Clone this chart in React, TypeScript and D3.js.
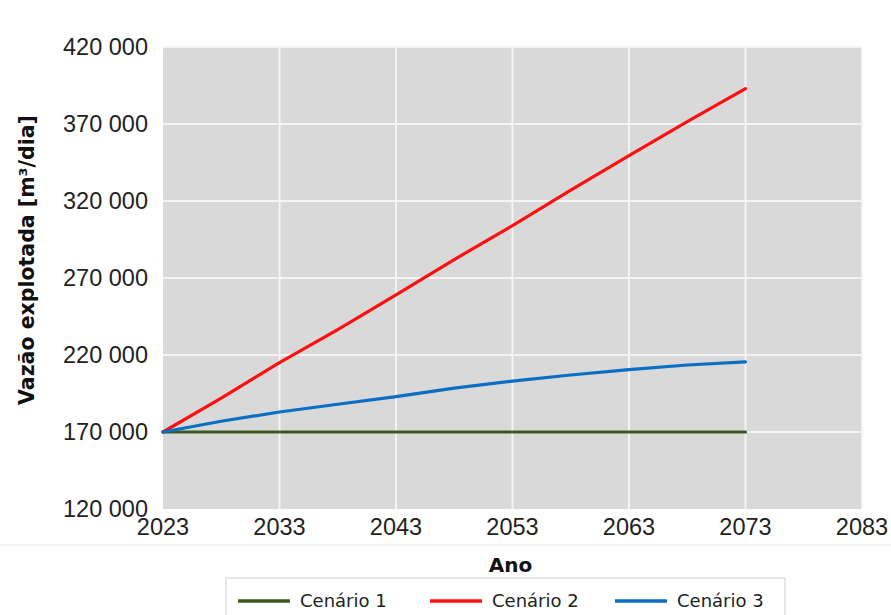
import * as d3 from "d3";
import { useEffect, useRef } from "react";

const years = [2023, 2028, 2033, 2038, 2043, 2048, 2053, 2058, 2063, 2068, 2073];
const cenario1 = [170000, 170000, 170000, 170000, 170000, 170000, 170000, 170000, 170000, 170000, 170000];
const cenario2 = [170000, 192000, 215000, 236500, 259000, 282000, 304000, 327000, 349500, 371500, 393000];
const cenario3 = [170000, 177000, 183000, 188000, 193000, 198500, 203000, 207000, 210500, 213500, 215500];
const xTicks = [2023, 2033, 2043, 2053, 2063, 2073, 2083];
const yTicks = [120000, 170000, 220000, 270000, 320000, 370000, 420000];
const seriesNames = ["Cenário 1", "Cenário 2", "Cenário 3"];
const seriesColors = ["#3a5a1e", "#ff0f0f", "#0a6fc2"];

export default function App() {
  const ref = useRef<SVGSVGElement | null>(null);
  useEffect(() => {
    if (!ref.current) return;
    const svg = d3.select(ref.current);
    svg.selectAll("*").remove();
    const w = 891;
    const h = 615;
    const x = d3.scaleLinear().domain([2023, 2083]).range([163, 862]);
    const y = d3.scaleLinear().domain([120000, 420000]).range([509, 47]);
    const fmt = (v: number) => d3.format(",")(v).replace(/,/g, " ");

    svg.append("rect").attr("width", w).attr("height", h).attr("fill", "#fff");
    svg
      .append("rect")
      .attr("x", x(2023))
      .attr("y", y(420000))
      .attr("width", x(2083) - x(2023))
      .attr("height", y(120000) - y(420000))
      .attr("fill", "#d9d9d9");

    const grid = svg.append("g").attr("stroke", "#f4f4f4").attr("stroke-width", 2);
    xTicks.slice(1).forEach((t) => {
      grid.append("line").attr("x1", x(t)).attr("x2", x(t)).attr("y1", y(420000)).attr("y2", y(120000));
    });
    yTicks.slice(1).forEach((t) => {
      grid.append("line").attr("x1", x(2023)).attr("x2", x(2083)).attr("y1", y(t)).attr("y2", y(t));
    });

    const tickFont = "'Liberation Sans', Arial, sans-serif";
    svg
      .append("g")
      .selectAll("text")
      .data(yTicks)
      .join("text")
      .attr("x", 148)
      .attr("y", (d) => y(d) + 8)
      .attr("text-anchor", "end")
      .attr("font-family", tickFont)
      .attr("font-size", 23.5)
      .attr("fill", "#222")
      .text((d) => fmt(d));
    svg
      .append("g")
      .selectAll("text")
      .data(xTicks)
      .join("text")
      .attr("x", (d) => x(d))
      .attr("y", 535)
      .attr("text-anchor", "middle")
      .attr("font-family", tickFont)
      .attr("font-size", 23.5)
      .attr("fill", "#222")
      .text((d) => String(d));

    svg.append("line").attr("x1", 0).attr("x2", w).attr("y1", 545).attr("y2", 545).attr("stroke", "#e6e6e6");

    const line = d3
      .line<number>()
      .x((_, i) => x(years[i]))
      .y((d) => y(d));
    [cenario1, cenario2, cenario3].forEach((s, i) => {
      svg
        .append("path")
        .attr("d", line(s) ?? "")
        .attr("fill", "none")
        .attr("stroke", seriesColors[i])
        .attr("stroke-width", 3.2)
        .attr("stroke-linecap", "round")
        .attr("stroke-linejoin", "round");
    });

    const boldFont = "'DejaVu Sans', Verdana, sans-serif";
    svg
      .append("text")
      .attr("transform", "translate(34,260) rotate(-90)")
      .attr("text-anchor", "middle")
      .attr("font-family", boldFont)
      .attr("font-weight", "bold")
      .attr("font-size", 20.5)
      .attr("fill", "#111")
      .text("Vazão explotada [m³/dia]");
    svg
      .append("text")
      .attr("x", x(2053) - 2)
      .attr("y", 572)
      .attr("text-anchor", "middle")
      .attr("font-family", boldFont)
      .attr("font-weight", "bold")
      .attr("font-size", 20)
      .attr("fill", "#111")
      .text("Ano");

    svg
      .append("rect")
      .attr("x", 226)
      .attr("y", 578)
      .attr("width", 559)
      .attr("height", 45)
      .attr("fill", "#fff")
      .attr("stroke", "#cfcfcf");
    const legendX = [238, 430, 615];
    seriesNames.forEach((n, i) => {
      const g = svg.append("g").attr("transform", `translate(${legendX[i]},601)`);
      g.append("line").attr("x1", 0).attr("x2", 52).attr("stroke", seriesColors[i]).attr("stroke-width", 3.5);
      g.append("text")
        .attr("x", 62)
        .attr("y", 6)
        .attr("font-family", boldFont)
        .attr("font-size", 18)
        .attr("fill", "#222")
        .text(n);
    });
  }, []);
  return <svg ref={ref} width={891} height={615} style={{ position: "absolute", left: 0, top: 0 }} />;
}
